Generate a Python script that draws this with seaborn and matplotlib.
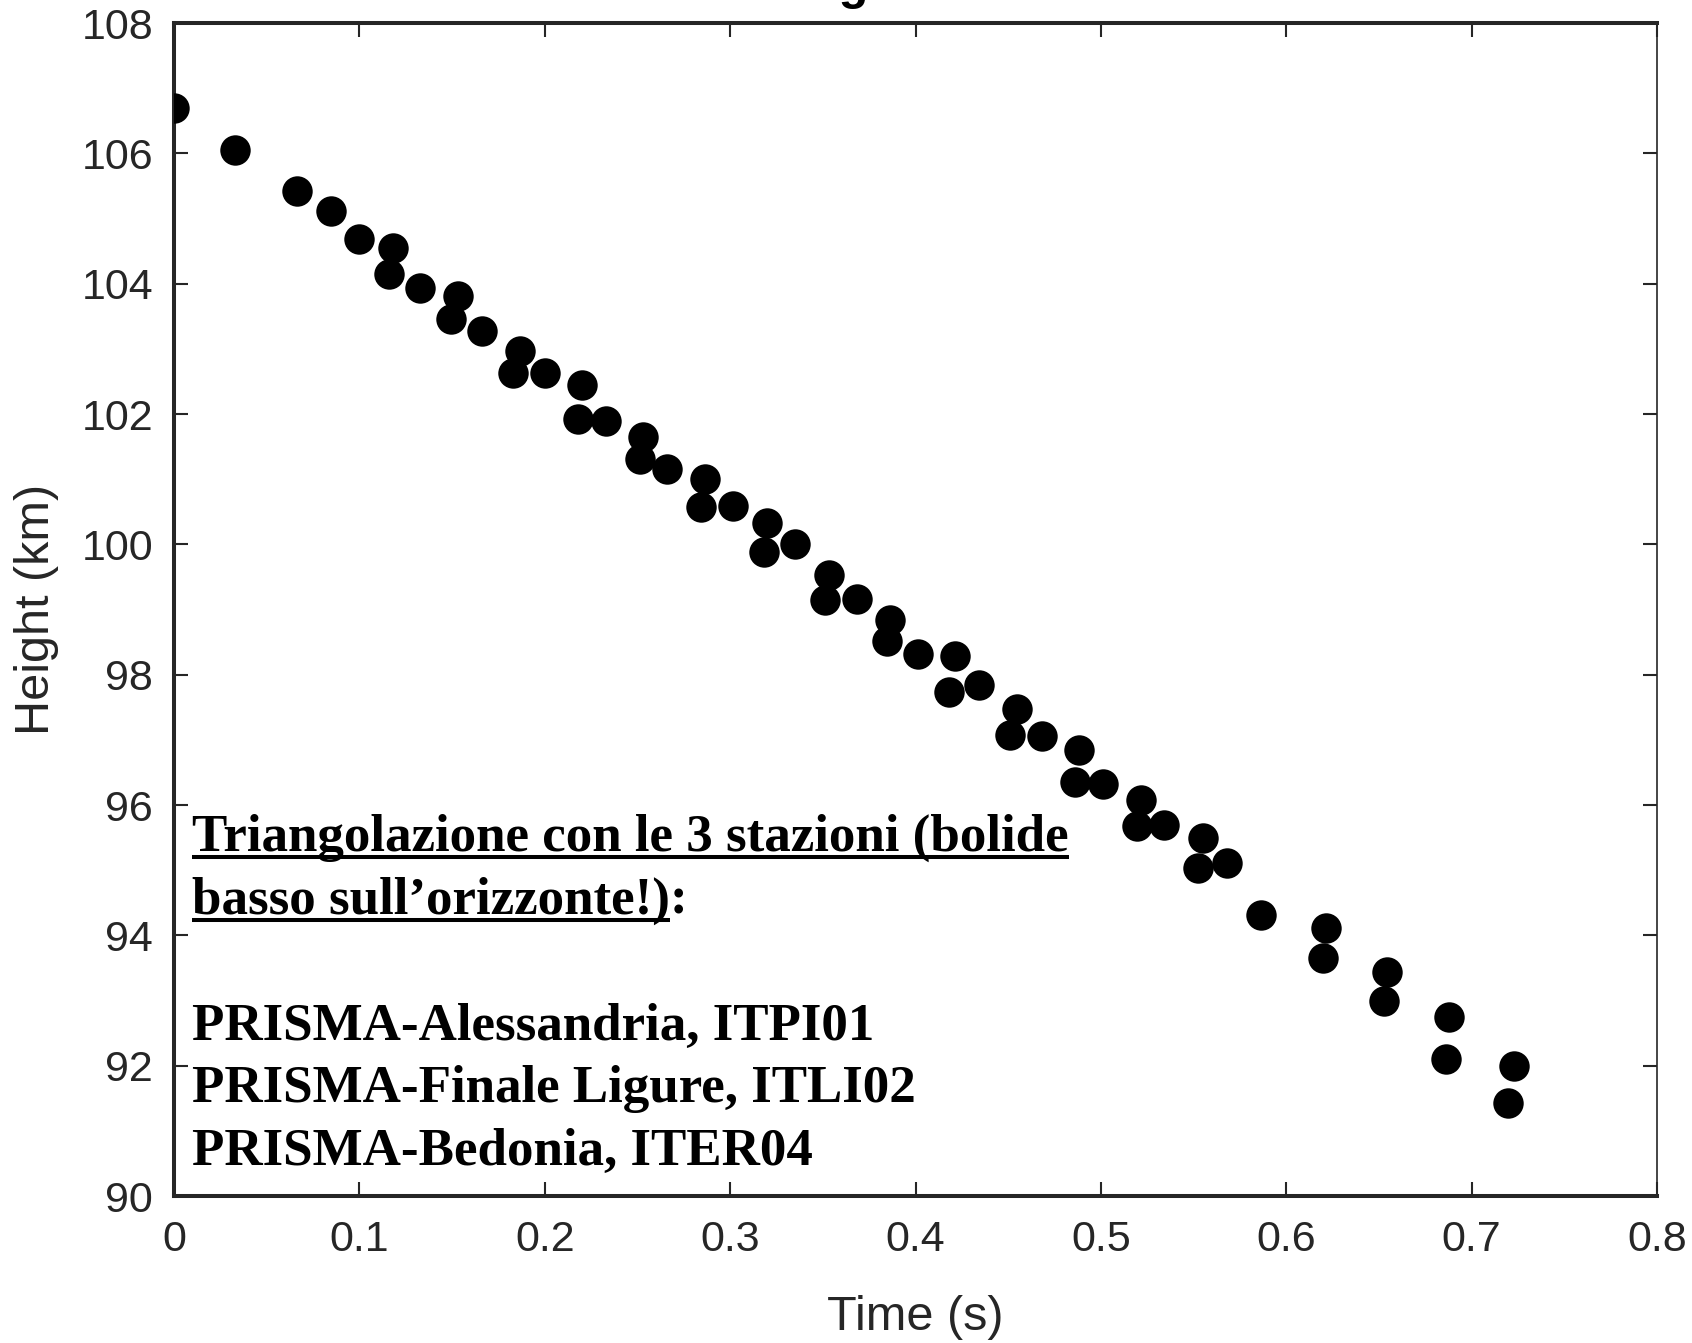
import matplotlib
matplotlib.use("Agg")
import matplotlib.pyplot as plt
from matplotlib.lines import Line2D
import seaborn as sns
import pandas as pd

# ---- data ----
time_s = [0.000, 0.0331, 0.0665, 0.0849, 0.0998, 0.1183, 0.1161, 0.1329, 0.1534, 0.1496,
          0.1663, 0.1868, 0.1830, 0.2000, 0.2201, 0.2181, 0.2329, 0.2532, 0.2514, 0.2661,
          0.2866, 0.2845, 0.3014, 0.3200, 0.3183, 0.3350, 0.3532, 0.3512, 0.3683, 0.3862,
          0.3848, 0.4012, 0.4215, 0.4179, 0.4344, 0.4549, 0.4510, 0.4681, 0.4884, 0.4861,
          0.5013, 0.5215, 0.5193, 0.5341, 0.5549, 0.5526, 0.5679, 0.5862, 0.6214, 0.6196,
          0.6545, 0.6529, 0.6880, 0.6860, 0.7230, 0.7194]
height_km = [106.69, 106.05, 105.42, 105.11, 104.68, 104.54, 104.15, 103.94, 103.81, 103.46,
             103.27, 102.96, 102.63, 102.63, 102.45, 101.93, 101.90, 101.64, 101.31, 101.15,
             101.01, 100.58, 100.59, 100.32, 99.89, 100.01, 99.53, 99.15, 99.16, 98.84,
             98.51, 98.32, 98.28, 97.74, 97.84, 97.48, 97.07, 97.06, 96.84, 96.36,
             96.32, 96.07, 95.68, 95.69, 95.49, 95.04, 95.11, 94.31, 94.11, 93.65,
             93.43, 93.00, 92.74, 92.10, 92.00, 91.42]

x_ticks = [0, 0.1, 0.2, 0.3, 0.4, 0.5, 0.6, 0.7, 0.8]
x_ticklabels = ["0", "0.1", "0.2", "0.3", "0.4", "0.5", "0.6", "0.7", "0.8"]
y_ticks = [90, 92, 94, 96, 98, 100, 102, 104, 106, 108]
y_ticklabels = [str(v) for v in y_ticks]

title_text = "Height vs Time"
x_label = "Time (s)"
y_label = "Height (km)"
note_line1 = "Triangolazione con le 3 stazioni (bolide"
note_line2 = "basso sull\u2019orizzonte!)"
note_line2_end = ":"
station_lines = ["PRISMA-Alessandria, ITPI01",
                 "PRISMA-Finale Ligure, ITLI02",
                 "PRISMA-Bedonia, ITER04"]

df = pd.DataFrame({"Time": time_s, "Height": height_km})

# ---- style ----
sns.set_theme(style="white")
plt.rcParams["font.family"] = ["Liberation Sans", "DejaVu Sans"]

W, H = 1692, 1343
DPI = 100
fig = plt.figure(figsize=(W / DPI, H / DPI), dpi=DPI)
ax = fig.add_axes([174 / W, 1 - 1196 / H, 1483 / W, 1173 / H])

sns.scatterplot(data=df, x="Time", y="Height", color="black", s=480,
                linewidth=0, ax=ax, legend=False, zorder=3)

ax.set_xlim(0, 0.8)
ax.set_ylim(90, 108)
ax.set_xticks(x_ticks)
ax.set_xticklabels(x_ticklabels)
ax.set_yticks(y_ticks)
ax.set_yticklabels(y_ticklabels)

dark = "#262626"
for side in ["left", "top", "bottom"]:
    ax.spines[side].set_linewidth(2.9)
    ax.spines[side].set_color(dark)
ax.spines["right"].set_linewidth(1.2)
ax.spines["right"].set_color(dark)

ax.tick_params(axis="both", which="major", direction="in", length=10, width=1.5,
               color=dark, labelcolor=dark, labelsize=31,
               top=True, right=True, bottom=True, left=True)
ax.tick_params(axis="x", pad=17)
ax.tick_params(axis="y", pad=15)

ax.set_xlabel(x_label, fontsize=35, color=dark)
ax.set_ylabel(y_label, fontsize=35, color=dark)
ax.xaxis.set_label_coords(0.5, (1196 - 1317) / 1173)
ax.xaxis.label.set_va("center")
ax.yaxis.set_label_coords((37 - 174) / 1483, 0.5)
ax.yaxis.label.set_va("center")

# title that is cut off by the top edge in the reference (only descenders show)
fig.text(935 / W, 1 + 1.5 / H, title_text, ha="center", va="baseline",
         fontsize=35, fontweight="bold", color="black")

# ---- annotation text (Times-like bold serif) ----
serif = ["Liberation Serif", "DejaVu Serif"]
fs = 38.2
x0 = 192 / W
baselines = [851, 914, 1040, 1102, 1165]

t1 = fig.text(x0, 1 - baselines[0] / H, note_line1, ha="left", va="baseline",
              fontsize=fs, fontweight="bold", family=serif, color="black")
t2 = fig.text(x0, 1 - baselines[1] / H, note_line2, ha="left", va="baseline",
              fontsize=fs, fontweight="bold", family=serif, color="black")
for i, line in enumerate(station_lines):
    fig.text(x0, 1 - baselines[2 + i] / H, line, ha="left", va="baseline",
             fontsize=fs, fontweight="bold", family=serif, color="black")

fig.canvas.draw()
renderer = fig.canvas.get_renderer()
bb1 = t1.get_window_extent(renderer)
bb2 = t2.get_window_extent(renderer)

fig.text(bb2.x1 / W, 1 - baselines[1] / H, note_line2_end, ha="left", va="baseline",
         fontsize=fs, fontweight="bold", family=serif, color="black")

for bb, base in [(bb1, baselines[0]), (bb2, baselines[1])]:
    yy = 1 - (base + 6) / H
    fig.add_artist(Line2D([bb.x0 / W, bb.x1 / W], [yy, yy], transform=fig.transFigure,
                          color="black", linewidth=2.9, solid_capstyle="butt"))

fig.savefig("out.png", dpi=DPI)
